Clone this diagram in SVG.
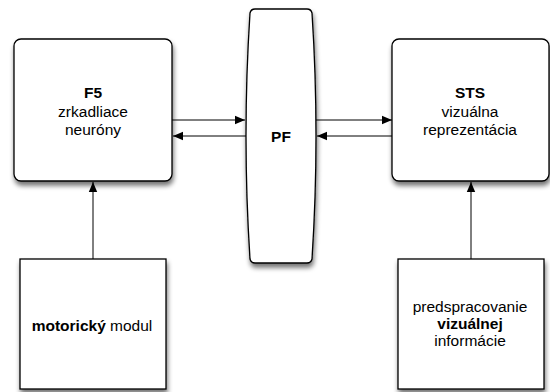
<svg xmlns="http://www.w3.org/2000/svg" width="550" height="392" viewBox="0 0 550 392">
<defs>
<filter id="sh" x="-20%" y="-20%" width="150%" height="150%">
<feGaussianBlur in="SourceAlpha" stdDeviation="2.5"/>
<feOffset dx="1" dy="4" result="b"/>
<feComponentTransfer><feFuncA type="linear" slope="0.55"/></feComponentTransfer>
<feMerge><feMergeNode/><feMergeNode in="SourceGraphic"/></feMerge>
</filter>
<marker id="ah" viewBox="0 0 10 10" refX="10" refY="5" markerWidth="10" markerHeight="10" markerUnits="userSpaceOnUse" orient="auto">
<path d="M0,0.8 L10,5 L0,9.2 Z" fill="#000"/>
</marker>
<style>
.box{fill:#fff;stroke:#000;stroke-width:1.3;filter:url(#sh)}
.t{font-family:"Liberation Sans",Arial,Helvetica,sans-serif;font-size:15.5px;fill:#000;text-anchor:middle}
.b{font-weight:bold}
.c{stroke:#000;stroke-width:1;fill:none;marker-end:url(#ah)}
</style>
</defs>
<g id="connectors">
<line class="c" x1="172" y1="120" x2="245" y2="120"/>
<line class="c" x1="246" y1="136" x2="173" y2="136"/>
<line class="c" x1="316" y1="120" x2="392" y2="120"/>
<line class="c" x1="392" y1="136" x2="317" y2="136"/>
<line class="c" x1="93" y1="259" x2="93" y2="182"/>
<line class="c" x1="471" y1="259" x2="471" y2="182"/>
</g>
<g id="f5">
<rect class="box" x="14" y="39" width="158" height="142" rx="7"/>
<text class="t b" x="93" y="98">F5</text>
<text class="t" x="93" y="116.5">zrkadliace</text>
<text class="t" x="93" y="135">neuróny</text>
</g>
<g id="pf">
<path class="box" d="M255 9 L307 9 Q311 9 312 13 Q320 136 312 259 Q311 263 307 263 L255 263 Q251 263 250 259 Q242 136 250 13 Q251 9 255 9 Z"/>
<text class="t b" x="281" y="142">PF</text>
</g>
<g id="sts">
<rect class="box" x="392" y="39" width="157" height="142" rx="7"/>
<text class="t b" x="470" y="98">STS</text>
<text class="t" x="470" y="116.5">vizuálna</text>
<text class="t" x="470" y="135">reprezentácia</text>
</g>
<g id="motor">
<rect class="box" x="20" y="259" width="146" height="130"/>
<text class="t" x="92" y="331"><tspan class="b">motorický</tspan> modul</text>
</g>
<g id="vis">
<rect class="box" x="398" y="259" width="146" height="130"/>
<text class="t" x="470" y="312">predspracovanie</text>
<text class="t b" x="470" y="329">vizuálnej</text>
<text class="t" x="470" y="346">informácie</text>
</g>
</svg>
